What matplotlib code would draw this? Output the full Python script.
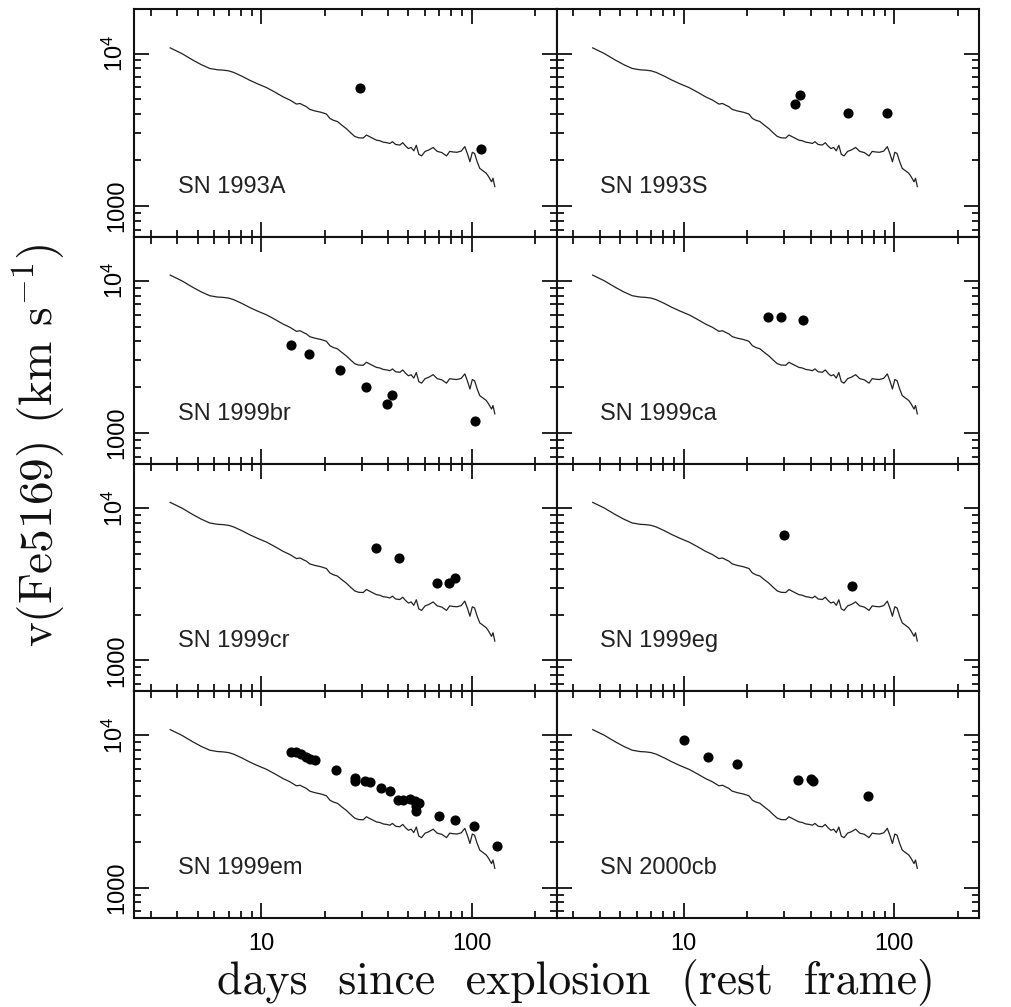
import matplotlib
matplotlib.use("Agg")
import matplotlib.pyplot as plt
from matplotlib.ticker import FixedLocator, NullFormatter, LogLocator

# ---------------- data ----------------
model_days = [3.7, 4.2, 4.75, 5.2, 5.7, 6.2, 6.6, 7.0, 7.4, 8.1, 8.8, 9.6, 10.6, 11.6,
              12.7, 13.7, 14.7, 15.3, 15.8, 16.4, 17.0, 18.0, 19.2, 20.4, 21.2, 22.0,
              23.0, 24.2, 25.4, 26.6, 27.8, 29.0, 30.5, 31.6, 33.0, 34.2, 35.3, 36.5,
              38.0, 39.5, 40.8, 42.0, 43.5, 45.5, 47.0, 48.5, 50.0, 51.5, 53.0, 54.5,
              56.0, 57.7, 60.0, 62.5, 65.5, 68.5, 72.0, 75.8, 78.5, 81.5, 85.0, 89.0,
              92.6, 95.5, 97.9, 100.5, 103.0, 106.0, 109.0, 113.0, 117.0, 120.0, 124.0,
              126.0, 128.5]
model_vel = [10890, 10000, 9040, 8450, 7980, 7820, 7780, 7700, 7520, 7100, 6690, 6330,
             5980, 5590, 5200, 4950, 4660, 4700, 4590, 4480, 4300, 4200, 4120, 4010,
             3750, 3650, 3580, 3380, 3210, 3020, 2860, 2800, 2790, 2920, 2830, 2760,
             2700, 2680, 2620, 2600, 2570, 2640, 2530, 2510, 2600, 2470, 2380, 2420,
             2300, 2500, 2180, 2130, 2280, 2330, 2420, 2280, 2240, 2130, 2280, 2260,
             2250, 2290, 2450, 2180, 1950, 2250, 2210, 1950, 1765, 1700, 1640, 1560,
             1440, 1520, 1340]

names = ["SN 1993A", "SN 1993S", "SN 1999br", "SN 1999ca",
         "SN 1999cr", "SN 1999eg", "SN 1999em", "SN 2000cb"]

sn1993A_days = [29.6, 111]
sn1993A_vel = [5960, 2350]
sn1993S_days = [33.7, 35.6, 60.5, 92]
sn1993S_vel = [4650, 5335, 4050, 4050]
sn1999br_days = [13.8, 16.8, 23.6, 31.6, 39.6, 41.7, 103]
sn1999br_vel = [3795, 3327, 2588, 2012, 1556, 1791, 1211]
sn1999ca_days = [25.0, 29.0, 37.0]
sn1999ca_vel = [5800, 5800, 5500]
sn1999cr_days = [35.0, 45.0, 68.0, 78.0, 83.0]
sn1999cr_vel = [5500, 4700, 3200, 3200, 3500]
sn1999eg_days = [30.0, 63.0]
sn1999eg_vel = [6700, 3100]
sn1999em_days = [13.8, 14.7, 15.5, 16.4, 17.1, 18.0, 22.6, 27.8, 27.8, 31.0, 32.8,
                 37.0, 40.8, 44.4, 46.9, 50.8, 53.6, 54.6, 56.2, 54.6, 70.0, 83.0,
                 102.6, 131.0]
sn1999em_vel = [7745, 7815, 7550, 7250, 6960, 6890, 5930, 5280, 4975, 5025, 4900,
                4500, 4280, 3770, 3770, 3830, 3680, 3445, 3600, 3190, 2975, 2760,
                2550, 1865]
sn2000cb_days = [10.0, 13.0, 18.0, 35.0, 40.0, 41.0, 75.0]
sn2000cb_vel = [9300, 7200, 6500, 5100, 5200, 5000, 4000]

obs_days = [sn1993A_days, sn1993S_days, sn1999br_days, sn1999ca_days,
            sn1999cr_days, sn1999eg_days, sn1999em_days, sn2000cb_days]
obs_vel = [sn1993A_vel, sn1993S_vel, sn1999br_vel, sn1999ca_vel,
           sn1999cr_vel, sn1999eg_vel, sn1999em_vel, sn2000cb_vel]

xticks = [10, 100]
xticklabels = ["10", "100"]
yticks = [1000, 10000]
yticklabels = ["1000", r"$\mathregular{10^4}$"]

# ---------------- figure ----------------
plt.rcParams["font.family"] = ["Liberation Sans", "DejaVu Sans"]
plt.rcParams["mathtext.fontset"] = "cm"

W, H = 1012, 1007
fig, axes = plt.subplots(4, 2, figsize=(W / 100, H / 100), dpi=100,
                         sharex=True, sharey=True)
fig.subplots_adjust(left=134.3 / W, right=979.3 / W, bottom=1 - 918.3 / H,
                    top=1 - 9.3 / H, wspace=0, hspace=0)

for i, ax in enumerate(axes.flat):
    ax.set_xscale("log")
    ax.set_yscale("log")
    ax.plot(model_days, model_vel, color="#222222", lw=0.9)
    ax.plot(obs_days[i], obs_vel[i], "o", color="black", ms=6.3, mec="black")
    ax.text(0.103, 0.193, names[i], transform=ax.transAxes, fontsize=17,
            ha="left", va="baseline", color="#222222")
    for sp in ax.spines.values():
        sp.set_linewidth(1.5)
        sp.set_color("#111111")
    ax.tick_params(which="both", direction="in", top=True, bottom=True,
                   left=True, right=True, width=1.3, color="#111111")
    ax.tick_params(which="major", length=10.5)
    ax.tick_params(which="minor", length=5.2)
    ax.tick_params(axis="x", which="major", pad=10.5, labelsize=17)
    ax.tick_params(axis="y", which="major", pad=4.5, labelsize=17)

ax0 = axes[0, 0]
ax0.set_xlim(2.5, 253)
ax0.set_ylim(630, 19500)
ax0.xaxis.set_major_locator(FixedLocator(xticks))
ax0.xaxis.set_minor_locator(LogLocator(base=10, subs=range(2, 10)))
ax0.xaxis.set_minor_formatter(NullFormatter())
ax0.set_xticklabels(xticklabels)
ax0.yaxis.set_major_locator(FixedLocator(yticks))
ax0.yaxis.set_minor_locator(LogLocator(base=10, subs=range(2, 10)))
ax0.yaxis.set_minor_formatter(NullFormatter())
ax0.set_yticklabels(yticklabels)

for ax in axes[:, 0]:
    for lab in ax.get_yticklabels():
        lab.set_rotation(90)
        lab.set_va("center")
for ax in axes[:, 1]:
    ax.tick_params(axis="y", labelleft=False)

fig.text(576 / W, 1 - 994 / H, "days  since  explosion  (rest  frame)",
         family="cmr10", fontsize=33, ha="center", va="baseline", color="#111111")
fig.text(39 / W, 1 - 445 / H, r"v(Fe5169) (km $\mathrm{s}^{-1}$)",
         family="cmr10", fontsize=34, rotation=90, ha="center", va="center",
         color="#111111")

fig.savefig("out.png", dpi=100)
